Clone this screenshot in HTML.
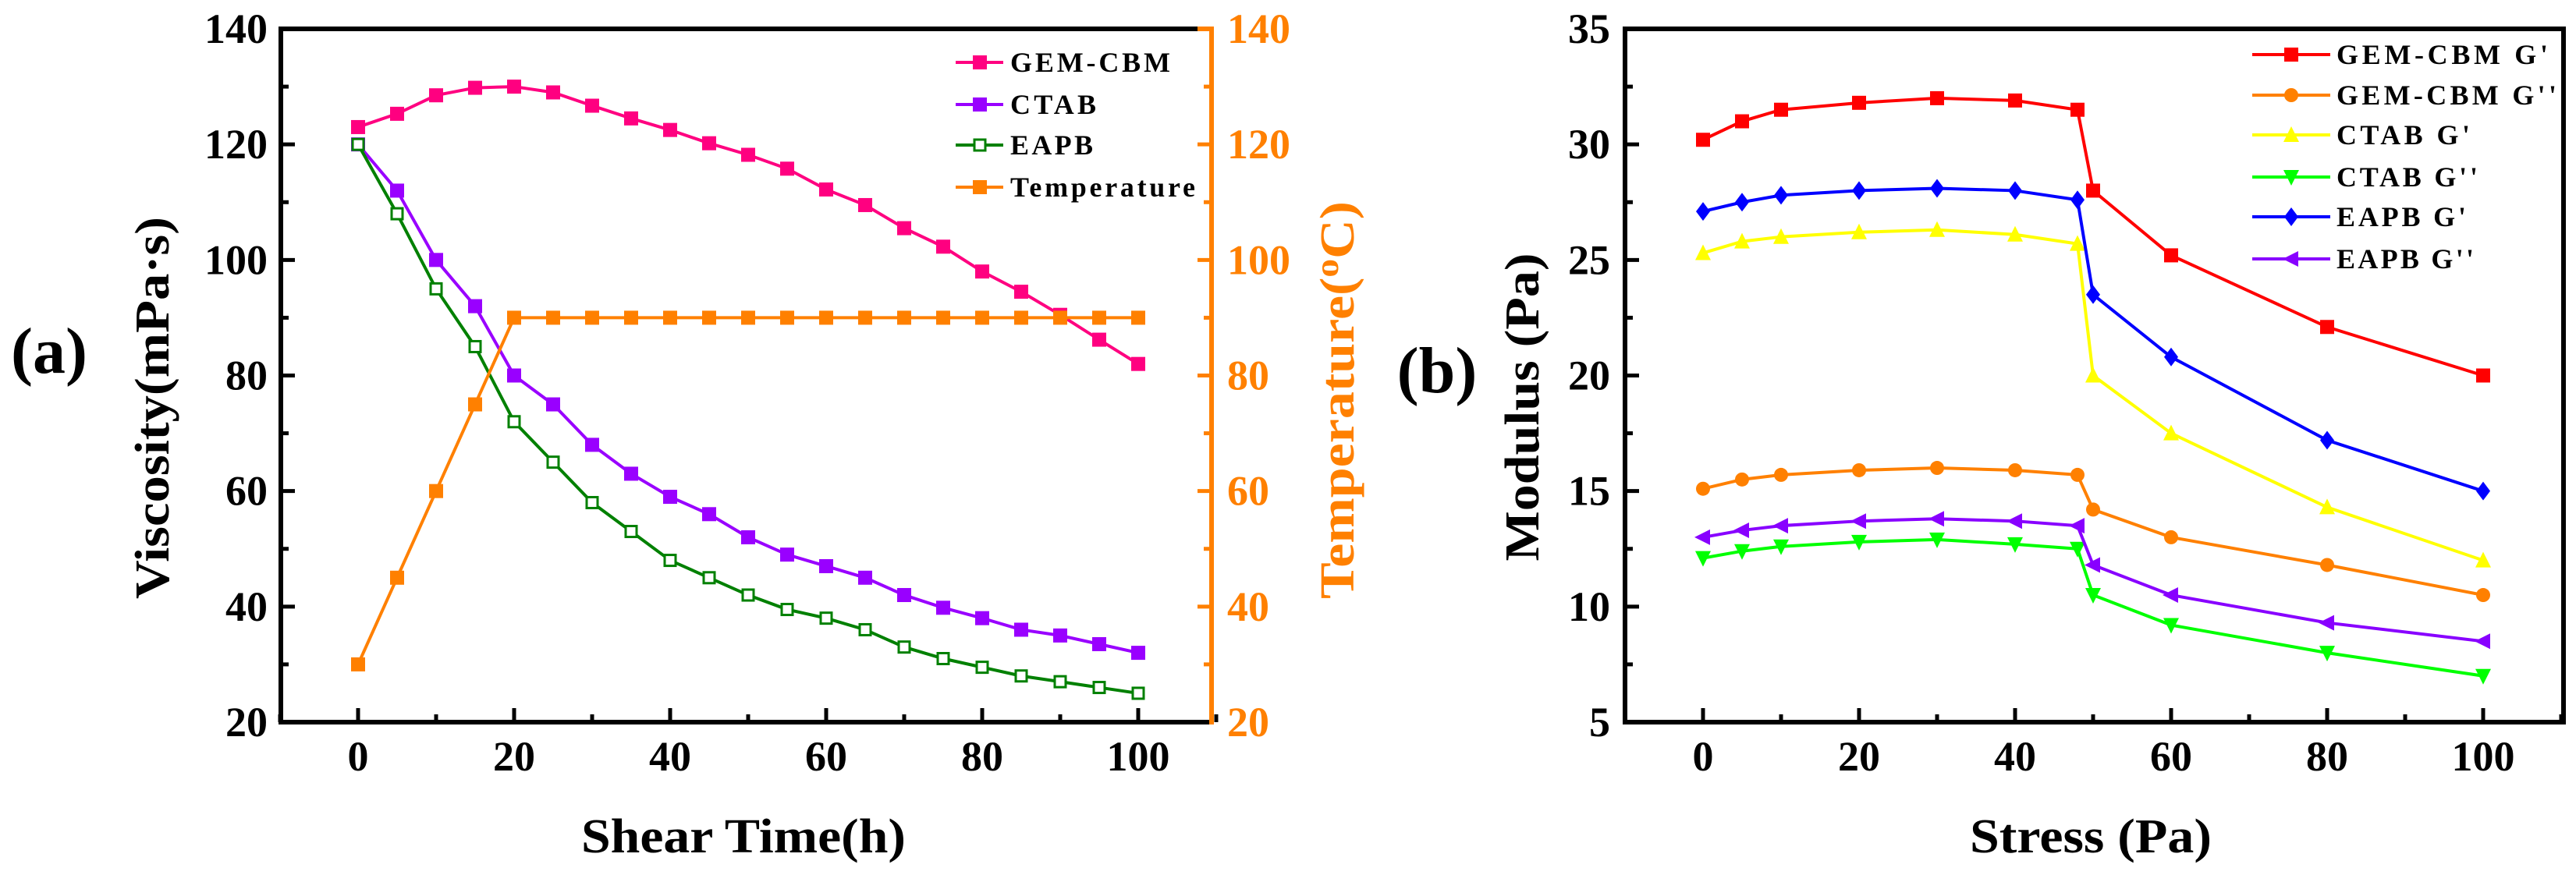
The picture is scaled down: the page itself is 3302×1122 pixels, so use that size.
<!DOCTYPE html>
<html><head><meta charset="utf-8"><style>
html,body{margin:0;padding:0;background:#fff;}
svg{display:block;font-family:"Liberation Serif",serif;font-weight:bold;}
</style></head><body>
<svg id="fig" width="3302" height="1122" viewBox="0 0 3302 1122" xmlns="http://www.w3.org/2000/svg"></svg>
<script>
// ---- Chart (a) data ----
const aTimes = [0,5,10,15,20,25,30,35,40,45,50,55,60,65,70,75,80,85,90,95,100];
const aGem = [123,125.3,128.5,129.8,130,129,126.7,124.5,122.5,120.2,118.2,115.8,112.2,109.5,105.5,102.3,98,94.5,90.5,86.2,82];
const aCtab = [120,112,100,92,80,75,68,63,59,56,52,49,47,45,42,39.8,38,36,35,33.5,32];
const aEapb = [120,108,95,85,72,65,58,53,48,45,42,39.5,38,36,33,31,29.5,28,27,26,25];
const aTemp = [30,45,60,75,90,90,90,90,90,90,90,90,90,90,90,90,90,90,90,90,90];
const aXTicks = [0,20,40,60,80,100];
const aYTicks = [20,40,60,80,100,120,140];
// ---- Chart (b) data ----
const bStress = [0,5,10,20,30,40,48,50,60,80,100];
const bGemG1 = [30.2,31,31.5,31.8,32,31.9,31.5,28,25.2,22.1,20];
const bGemG2 = [15.1,15.5,15.7,15.9,16,15.9,15.7,14.2,13,11.8,10.5];
const bCtabG1 = [25.3,25.8,26,26.2,26.3,26.1,25.7,20,17.5,14.3,12];
const bCtabG2 = [12.1,12.4,12.6,12.8,12.9,12.7,12.5,10.5,9.2,8,7];
const bEapbG1 = [27.1,27.5,27.8,28,28.1,28,27.6,23.5,20.8,17.2,15];
const bEapbG2 = [13,13.3,13.5,13.7,13.8,13.7,13.5,11.8,10.5,9.3,8.5];
const bXTicks = [0,20,40,60,80,100];
const bYTicks = [5,10,15,20,25,30,35];

const NS="http://www.w3.org/2000/svg";
const svg=document.getElementById('fig');
function mk(tag,attrs,parent){const e=document.createElementNS(NS,tag);for(const k in attrs)e.setAttribute(k,attrs[k]);(parent||svg).appendChild(e);return e;}
function txt(s,attrs,parent){const e=mk('text',attrs,parent);e.textContent=s;return e;}

// axis functions
const ax=v=>459+v*10, ay=v=>926-(v-20)*(889/120);
const bx=v=>2183+v*10, by=v=>926-(v-5)*(889/30);

function marker(g,shape,x,y,color,s){
  let e;
  if(shape==='sq') e=mk('rect',{x:x-s/2,y:y-s/2,width:s,height:s,fill:color},g);
  else if(shape==='osq') e=mk('rect',{x:x-s/2+2,y:y-s/2+2,width:s-4,height:s-4,fill:'#fff',stroke:color,'stroke-width':3},g);
  else if(shape==='circ') e=mk('circle',{cx:x,cy:y,r:s/2,fill:color},g);
  else if(shape==='up') e=mk('polygon',{points:`${x},${y-s/2-2} ${x-s/2-1},${y+s/2} ${x+s/2+1},${y+s/2}`,fill:color},g);
  else if(shape==='down') e=mk('polygon',{points:`${x},${y+s/2+2} ${x-s/2-1},${y-s/2} ${x+s/2+1},${y-s/2}`,fill:color},g);
  else if(shape==='dia') e=mk('polygon',{points:`${x},${y-s/2-3} ${x+s/2},${y} ${x},${y+s/2+3} ${x-s/2},${y}`,fill:color},g);
  else if(shape==='left') e=mk('polygon',{points:`${x-s/2-2},${y} ${x+s/2},${y-s/2-1} ${x+s/2},${y+s/2+1}`,fill:color},g);
  
  
}
function series(name,xs,ys,fx,fy,color,shape,s){
  const g=mk('g',{});
  
  
  const pts=xs.map((x,i)=>fx(x)+','+fy(ys[i])).join(' ');
  const l=mk('polyline',{points:pts,fill:'none',stroke:color,'stroke-width':4},g);
  
  
  xs.forEach((x,i)=>marker(g,shape,fx(x),fy(ys[i]),color,s));
}
function legend(name,label,x,y,color,shape,lx0,lx1,mx,tx,fs,tl){
  const g=mk('g',{});
  
  
  mk('line',{x1:lx0,y1:y,x2:lx1,y2:y,stroke:color,'stroke-width':4},g);
  marker(g,shape,mx,y,color,18);
  const t=txt(label,{x:tx,y:y+fs*0.34,'font-size':fs,fill:'#000',textLength:tl,lengthAdjust:'spacing'},g);
  
  
}

// ===== Chart (a) =====
series('gem-cbm-series',aTimes,aGem,ax,ay,'#FF0080','sq',18);
series('ctab-series',aTimes,aCtab,ax,ay,'#9900FF','sq',18);
series('eapb-series',aTimes,aEapb,ax,ay,'#008000','osq',18);
series('temperature-series',aTimes,aTemp,ax,ay,'#FF8000','sq',18);
// axes
const aAxes=mk('g',{});


mk('line',{x1:360,y1:37,x2:1553,y2:37,stroke:'#000','stroke-width':6},aAxes);
mk('line',{x1:1535,y1:37,x2:1556,y2:37,stroke:'#FF8000','stroke-width':6},aAxes);
mk('line',{x1:360,y1:34,x2:360,y2:929,stroke:'#000','stroke-width':6},aAxes);
mk('line',{x1:357,y1:926,x2:1553,y2:926,stroke:'#000','stroke-width':6},aAxes);
mk('line',{x1:1553,y1:34,x2:1553,y2:929,stroke:'#FF8000','stroke-width':6},aAxes);
for(let v=-10;v<=110;v+=10){const X=ax(v);mk('line',{x1:X,y1:926,x2:X,y2:v%20===0?908:916,stroke:'#000','stroke-width':5},aAxes);}
for(let v=30;v<=130;v+=10){const Y=ay(v);const maj=v%20===0;
  mk('line',{x1:360,y1:Y,x2:maj?378:370,y2:Y,stroke:'#000','stroke-width':5},aAxes);
  mk('line',{x1:1553,y1:Y,x2:maj?1535:1543,y2:Y,stroke:'#FF8000','stroke-width':5},aAxes);}
aXTicks.forEach(v=>{const t=txt(String(v),{x:ax(v),y:988,'font-size':54,'text-anchor':'middle',fill:'#000'});
  
  });
aYTicks.forEach(v=>{const t=txt(String(v),{x:343,y:ay(v)+18,'font-size':54,'text-anchor':'end',fill:'#000'});
  
  
  const r=txt(String(v),{x:1573,y:ay(v)+18,'font-size':54,fill:'#FF8000'});
  
  });
legend('legend-gem-cbm','GEM-CBM',0,80,'#FF0080','sq',1225,1286,1256,1295,36,205);
legend('legend-ctab','CTAB',0,134,'#9900FF','sq',1225,1286,1256,1295,36,110);
legend('legend-eapb','EAPB',0,186,'#008000','osq',1225,1286,1256,1295,36,106);
legend('legend-temperature','Temperature',0,240,'#FF8000','sq',1225,1286,1256,1295,36,237);
let t;
t=txt('Shear Time(h)',{x:953,y:1093,'font-size':62,'text-anchor':'middle',fill:'#000',textLength:416,lengthAdjust:'spacingAndGlyphs'});


t=txt('Viscosity(mPa·s)',{x:0,y:0,'font-size':62,'text-anchor':'middle',fill:'#000',transform:'translate(216,523) rotate(-90)',textLength:490,lengthAdjust:'spacingAndGlyphs'});


t=mk('text',{x:0,y:0,'font-size':62,'text-anchor':'middle',fill:'#FF8000',transform:'translate(1735,513) rotate(-90)',textLength:510,lengthAdjust:'spacingAndGlyphs'});
t.innerHTML='Temperature(<tspan dy="-20" font-size="42">o</tspan><tspan dy="20">C)</tspan>';


t=txt('(a)',{x:63,y:478,'font-size':84,'text-anchor':'middle',fill:'#000'});



// ===== Chart (b) =====
series('gem-cbm-g1-series',bStress,bGemG1,bx,by,'#FF0000','sq',18);
series('gem-cbm-g2-series',bStress,bGemG2,bx,by,'#FF8000','circ',18);
series('ctab-g1-series',bStress,bCtabG1,bx,by,'#FFFF00','up',18);
series('ctab-g2-series',bStress,bCtabG2,bx,by,'#00FF00','down',18);
series('eapb-g1-series',bStress,bEapbG1,bx,by,'#0000FF','dia',18);
series('eapb-g2-series',bStress,bEapbG2,bx,by,'#8800FF','left',18);
const bAxes=mk('g',{});


mk('rect',{x:2083,y:37,width:1203,height:889,fill:'none',stroke:'#000','stroke-width':6},bAxes);
for(let v=-10;v<=110;v+=10){const X=bx(v);mk('line',{x1:X,y1:926,x2:X,y2:v%20===0?908:916,stroke:'#000','stroke-width':5},bAxes);}
for(let v=7.5;v<35;v+=2.5){const Y=by(v);const maj=Math.abs(v%5)<0.01;
  mk('line',{x1:2083,y1:Y,x2:maj?2101:2093,y2:Y,stroke:'#000','stroke-width':5},bAxes);}
bXTicks.forEach(v=>{const t=txt(String(v),{x:bx(v),y:988,'font-size':54,'text-anchor':'middle',fill:'#000'});
  
  });
bYTicks.forEach(v=>{const t=txt(String(v),{x:2064,y:by(v)+18,'font-size':54,'text-anchor':'end',fill:'#000'});
  
  });
legend('legend-gem-cbm-g1',"GEM-CBM G'",0,70,'#FF0000','sq',2887,2987,2937,2995,36,271);
legend('legend-gem-cbm-g2',"GEM-CBM G''",0,122,'#FF8000','circ',2887,2987,2937,2995,36,282);
legend('legend-ctab-g1',"CTAB G'",0,173,'#FFFF00','up',2887,2987,2937,2995,36,171);
legend('legend-ctab-g2',"CTAB G''",0,227,'#00FF00','down',2887,2987,2937,2995,36,181);
legend('legend-eapb-g1',"EAPB G'",0,278,'#0000FF','dia',2887,2987,2937,2995,36,166);
legend('legend-eapb-g2',"EAPB G''",0,332,'#8800FF','left',2887,2987,2937,2995,36,176);
t=txt('Stress (Pa)',{x:2680,y:1093,'font-size':62,'text-anchor':'middle',fill:'#000',textLength:310,lengthAdjust:'spacingAndGlyphs'});


t=txt('Modulus (Pa)',{x:0,y:0,'font-size':62,'text-anchor':'middle',fill:'#000',transform:'translate(1972,522) rotate(-90)',textLength:395,lengthAdjust:'spacingAndGlyphs'});


t=txt('(b)',{x:1842,y:503,'font-size':84,'text-anchor':'middle',fill:'#000'});


</script>
</body></html>
